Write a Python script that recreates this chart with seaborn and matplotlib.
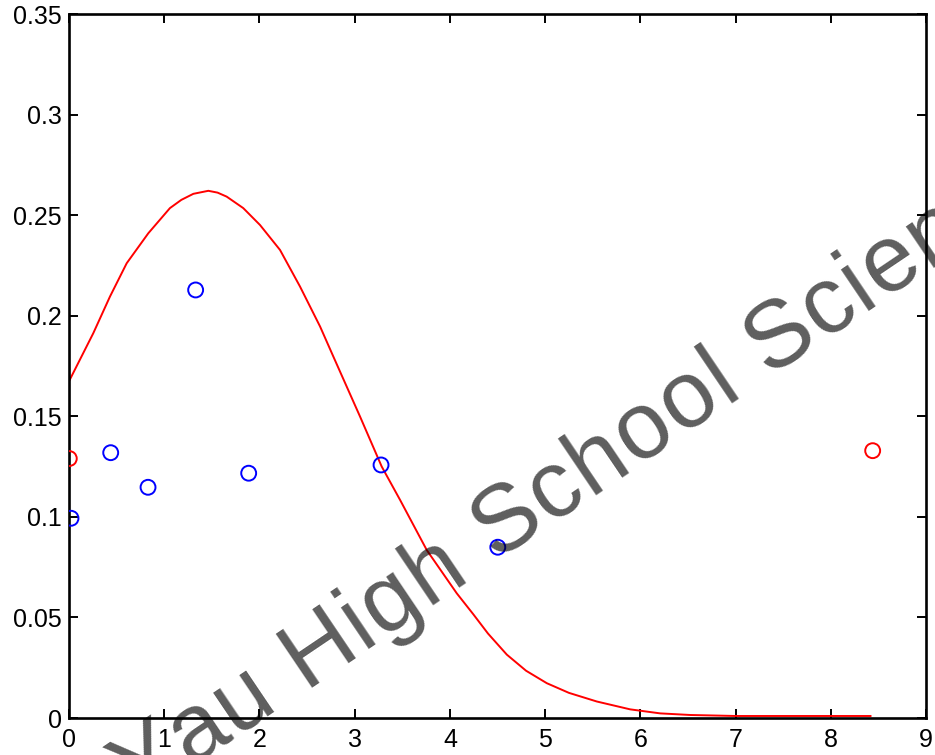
import matplotlib
matplotlib.use("Agg")
import numpy as np
import matplotlib.pyplot as plt
import matplotlib.transforms as mtransforms
from matplotlib import font_manager, ft2font
import seaborn as sns
import pandas as pd

# ---- data ----
curve_x = [0.0, 0.255, 0.43, 0.606, 0.833, 1.06, 1.18, 1.306, 1.463, 1.56, 1.656, 1.83,
           2.006, 2.216, 2.426, 2.637, 2.776, 3.057, 3.284, 3.477, 3.757, 4.072,
           4.247, 4.4, 4.598, 4.8, 5.018, 5.25, 5.543, 5.893, 6.208, 6.523, 7.0, 7.5, 8.0, 8.42]
curve_y = [0.1674, 0.1913, 0.2095, 0.2261, 0.241, 0.2535, 0.2576, 0.2606, 0.2621, 0.2612, 0.2592, 0.2535,
           0.2451, 0.2327, 0.2145, 0.1946, 0.1797, 0.1498, 0.125, 0.1084, 0.0835, 0.0620,
           0.0515, 0.042, 0.0315, 0.0235, 0.0173, 0.0125, 0.0082, 0.0043, 0.0023, 0.0015,
           0.001, 0.001, 0.001, 0.001]

blue_x = [0.021, 0.438, 0.83, 1.33, 1.887, 3.277, 4.503]
blue_y = [0.0993, 0.1319, 0.1147, 0.2128, 0.1217, 0.1258, 0.0849]

red_x = [0.003, 8.44]
red_y = [0.129, 0.1329]

x_ticks = [0, 1, 2, 3, 4, 5, 6, 7, 8, 9]
y_ticks = [0, 0.05, 0.1, 0.15, 0.2, 0.25, 0.3, 0.35]
y_tick_labels = ["0", "0.05", "0.1", "0.15", "0.2", "0.25", "0.3", "0.35"]

watermark = "Yau High School Science"

# ---- style ----
sns.set_style("ticks")
plt.rcParams['font.family'] = ['Liberation Sans', 'DejaVu Sans']

W, H = 935, 755
fig = plt.figure(figsize=(W / 100, H / 100), dpi=100)
ax = fig.add_axes([69 / W, 1 - 718 / H, (926 - 69) / W, (718 - 14) / H])

curve_df = pd.DataFrame({"x": curve_x, "y": curve_y})
blue_df = pd.DataFrame({"x": blue_x, "y": blue_y})
red_df = pd.DataFrame({"x": red_x, "y": red_y})

sns.lineplot(data=curve_df, x="x", y="y", ax=ax, color="#ff0000", lw=1.4,
             sort=False, estimator=None, zorder=2)
sns.scatterplot(data=blue_df, x="x", y="y", ax=ax, marker="o", s=115,
                facecolor="none", edgecolor="#0000ff", linewidth=1.4, zorder=3)
sns.scatterplot(data=red_df, x="x", y="y", ax=ax, marker="o", s=115,
                facecolor="none", edgecolor="#ff0000", linewidth=1.4, zorder=3)

ax.set_xlim(0, 9)
ax.set_ylim(0, 0.35)
ax.set_xticks(x_ticks)
ax.set_xticklabels([str(t) for t in x_ticks])
ax.set_yticks(y_ticks)
ax.set_yticklabels(y_tick_labels)
ax.set_xlabel("")
ax.set_ylabel("")

for sp in ax.spines.values():
    sp.set_visible(True)
    sp.set_color("black")
    sp.set_linewidth(1.9)

ax.tick_params(axis="both", which="both", direction="in", length=6.5, width=1.4,
               colors="black", labelsize=18, top=True, right=True)
ax.tick_params(axis="x", pad=7)
ax.tick_params(axis="y", pad=5)

# ---- watermark: characters laid along a rotated baseline with extra tracking ----
wm_size = 68.0
wm_angle = 34.0
wm_track = 2.0  # extra px between characters
fprop = font_manager.FontProperties(family="Liberation Sans")
fpath = font_manager.findfont(fprop)
ft = ft2font.FT2Font(fpath)
ft.set_size(wm_size, 100)
adv = []
for c in watermark:
    g = ft.load_char(ord(c))
    adv.append(g.linearHoriAdvance / 65536.0)
adv = np.array(adv)
cum = np.concatenate([[0], np.cumsum(adv)[:-1]]) + np.arange(len(adv)) * wm_track + adv / 2
ref_i = 9  # "S" of School
anchor = np.array([521.5, H - 541.5])  # display coords (y up)
d = np.array([np.cos(np.radians(wm_angle)), np.sin(np.radians(wm_angle))])
for i, c in enumerate(watermark):
    if c == " ":
        continue
    p = anchor + (cum[i] - cum[ref_i]) * d
    fig.text(p[0], p[1], c, transform=mtransforms.IdentityTransform(),
             fontsize=wm_size, color="black", alpha=0.63, rotation=wm_angle,
             rotation_mode="anchor", ha="center", va="baseline",
             family=["Liberation Sans", "DejaVu Sans"], zorder=10)

fig.savefig("out.png", dpi=100)
